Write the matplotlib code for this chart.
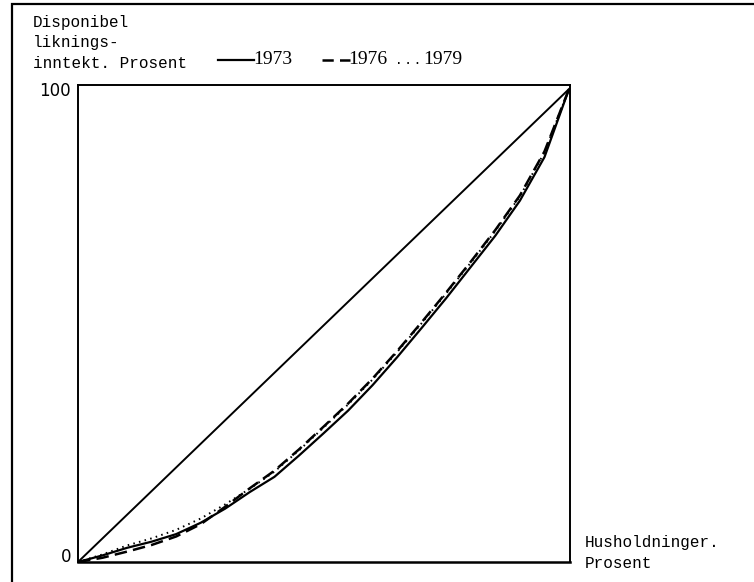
import matplotlib
matplotlib.use("Agg")
import matplotlib.pyplot as plt
from matplotlib.patches import Rectangle

# Data (percent of households vs cumulative disposable income share)
households = [0, 5, 10, 15, 20, 25, 30, 35, 40, 45, 50, 55, 60, 65, 70, 75, 80, 85, 90, 95, 100]
income_1973 = [0, 1.4, 3.0, 4.3, 5.9, 8.3, 11.3, 14.8, 18.0, 22.5, 27.2, 32.0, 37.4, 43.3, 49.5, 55.8, 62.4, 69.0, 76.4, 85.6, 100]
income_1976 = [0, 0.9, 2.2, 3.6, 5.4, 8.0, 11.7, 15.6, 19.3, 23.8, 28.6, 33.5, 38.8, 44.6, 50.7, 57.0, 63.5, 70.2, 77.5, 86.8, 100]
income_1979 = [0, 1.6, 3.5, 5.0, 6.8, 9.2, 12.2, 15.5, 19.1, 23.6, 28.4, 33.3, 38.6, 44.4, 50.5, 56.8, 63.3, 70.0, 77.3, 86.6, 100]
equality = [0, 100]
years = ["1973", "1976", "1979"]
ytick_vals = [0, 100]
ytick_labels = ["0", "100"]

W, H = 754, 582
fig = plt.figure(figsize=(W / 100, H / 100), dpi=100)
fig.patch.set_facecolor("white")

def fx(px):
    return px / W

def fy(py):
    return 1 - py / H

# outer frame (partially cut off at right/bottom in the scan)
fig.patches.append(Rectangle((fx(12), -0.05), 1.2, fy(4) + 0.05,
                             transform=fig.transFigure, fill=False,
                             edgecolor="black", linewidth=1.6))

ax = fig.add_axes([fx(78), fy(562), fx(570) - fx(78), fy(85) - fy(562)])
ax.set_xlim(0, 100.2)
ax.set_ylim(0, 100.85)

ax.plot(equality, equality, color="black", linewidth=1.4)
ax.plot(households, income_1973, color="black", linewidth=1.6, solid_capstyle="butt")
ax.plot(households, income_1976, color="black", linewidth=1.8, dashes=(5, 2.5))
ax.plot(households, income_1979, color="black", linewidth=1.4, linestyle=(0, (0.8, 2.2)))

for s in ax.spines.values():
    s.set_linewidth(1.4)
ax.spines["bottom"].set_linewidth(1.8)

ax.set_xticks([])
ax.set_yticks(ytick_vals)
ax.set_yticklabels(ytick_labels, fontsize=12, family="DejaVu Sans")
ax.tick_params(axis="y", length=0, pad=5)
lbls = ax.get_yticklabels()
lbls[0].set_va("baseline")

mono = "Liberation Mono"
fig.text(fx(33), fy(23), "Disponibel", family=mono, fontsize=11.5, va="center", ha="left")
fig.text(fx(33), fy(42), "liknings-", family=mono, fontsize=11.5, va="center", ha="left")
fig.text(fx(33), fy(63), "inntekt. Prosent", family=mono, fontsize=11.5, va="center", ha="left")

fig.text(fx(585), fy(543), "Husholdninger.", family=mono, fontsize=11.5, va="center", ha="left")
fig.text(fx(585), fy(563), "Prosent", family=mono, fontsize=11.5, va="center", ha="left")

# legend drawn manually at the top
ly = fy(60)
serif = "Liberation Serif"
fig.lines.append(plt.Line2D([fx(218), fx(254)], [ly, ly], transform=fig.transFigure,
                            color="black", linewidth=1.6))
fig.text(fx(253), fy(59), years[0], family=serif, fontsize=14, va="center", ha="left")
fig.lines.append(plt.Line2D([fx(322), fx(350)], [ly, ly], transform=fig.transFigure,
                            color="black", linewidth=1.8, dashes=(4.5, 2.5)))
fig.text(fx(348), fy(59), years[1], family=serif, fontsize=14, va="center", ha="left")
fig.lines.append(plt.Line2D([fx(398), fx(424)], [fy(63), fy(63)], transform=fig.transFigure,
                            color="black", linewidth=1.4, linestyle=(0, (0.8, 4.0))))
fig.text(fx(423), fy(59), years[2], family=serif, fontsize=14, va="center", ha="left")

fig.savefig("out.png", dpi=100)
